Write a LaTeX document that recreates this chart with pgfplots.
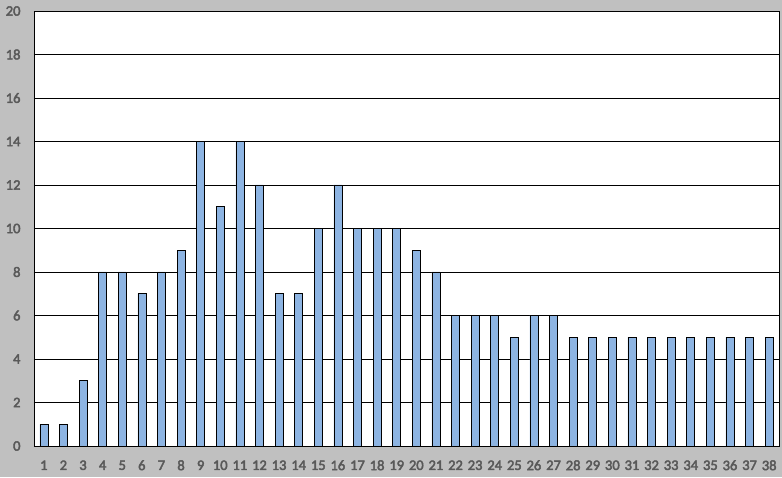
\documentclass[border=0pt]{standalone}
\usepackage{pgfplots}
\pgfplotsset{compat=1.18}
\usepackage{fontspec}
\setmainfont{Carlito}
\newfontfamily\lblfont{Carlito}[FakeBold=3]
\definecolor{bgc}{HTML}{C0C0C0}
\definecolor{barc}{HTML}{8DB4E2}
\definecolor{lblc}{HTML}{595959}
\begin{document}
\begin{tikzpicture}[x=1pt,y=1pt]
\useasboundingbox (0,0) rectangle (782,477);
\fill[bgc] (0,0) rectangle (782,477);
\begin{axis}[
  at={(34pt,31pt)}, anchor=south west,
  scale only axis, width=745pt, height=435pt,
  xmin=0.5, xmax=38.5, ymin=0, ymax=20,
  xtick={1,...,38}, ytick={0,2,...,20},
  ymajorgrids, major grid style={black, line width=0.8pt},
  axis line style={black, line width=0.8pt},
  axis background/.style={fill=white},
  tick style={draw=none},
  tick label style={font=\lblfont\fontsize{14.5}{16}\selectfont, text=lblc},
  xticklabel={\pgfmathprintnumber[assume math mode=true]{\tick}},
  yticklabel={\pgfmathprintnumber[assume math mode=true]{\tick}},
  xticklabel style={anchor=center, yshift=-15pt},
  yticklabel style={anchor=east, xshift=-10pt},
  ybar, bar width=8pt,
]
\addplot[fill=barc, draw=black, line width=0.6pt] coordinates {
(1,1) (2,1) (3,3) (4,8) (5,8) (6,7) (7,8) (8,9) (9,14) (10,11)
(11,14) (12,12) (13,7) (14,7) (15,10) (16,12) (17,10) (18,10) (19,10) (20,9)
(21,8) (22,6) (23,6) (24,6) (25,5) (26,6) (27,6) (28,5) (29,5) (30,5)
(31,5) (32,5) (33,5) (34,5) (35,5) (36,5) (37,5) (38,5)
};
\end{axis}
\end{tikzpicture}
\end{document}
